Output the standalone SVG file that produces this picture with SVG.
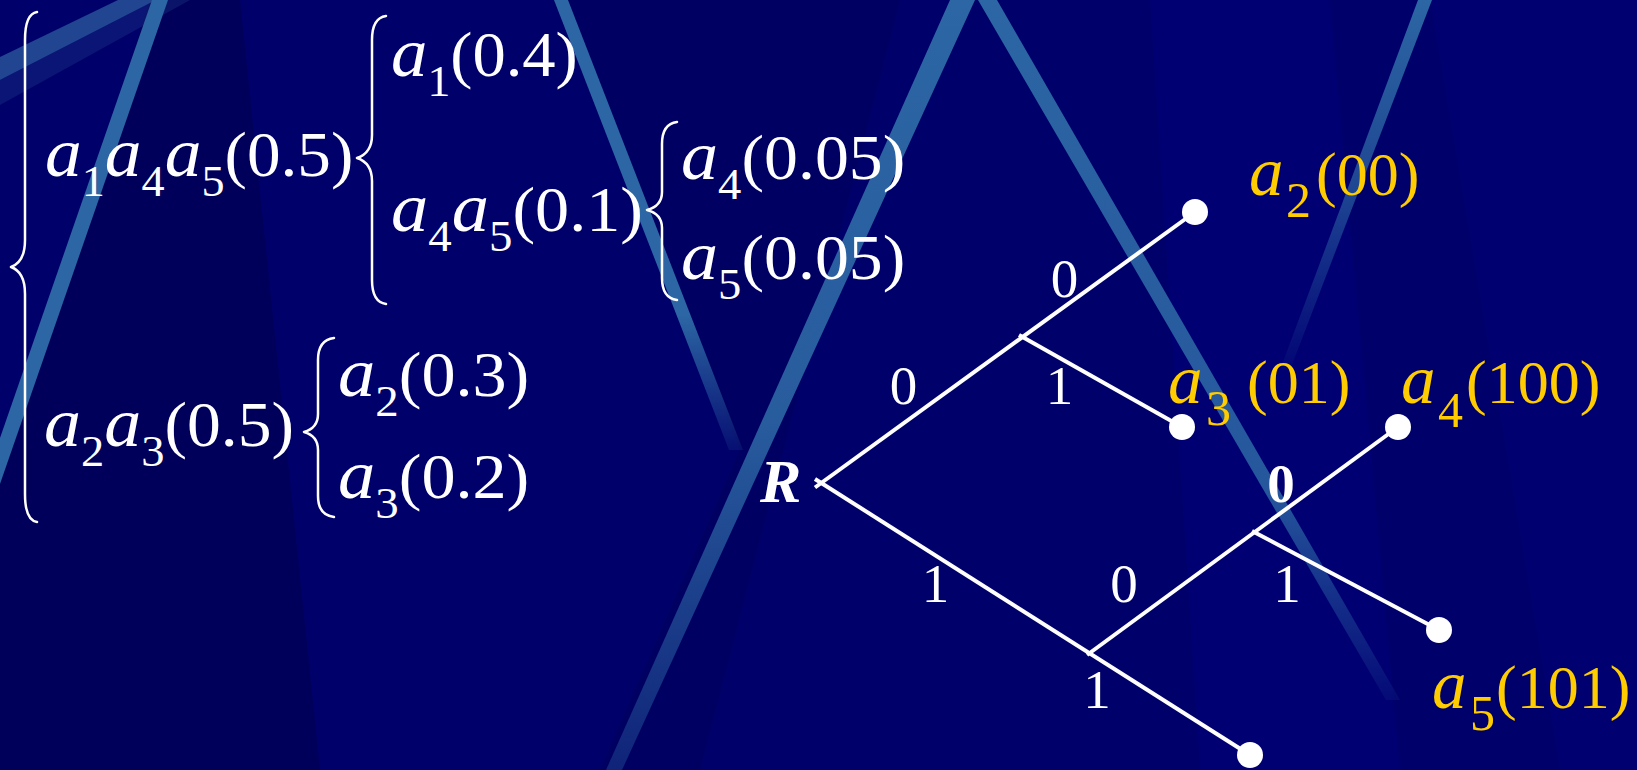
<svg xmlns="http://www.w3.org/2000/svg" width="1637" height="770" viewBox="0 0 1637 770">
<defs>
<style>
.eq{font-family:"Liberation Serif","Times New Roman",serif;font-size:64px;fill:#ffffff}
.i{font-style:italic;font-size:70px}
.s{font-size:44px}
.lbl{font-family:"Liberation Serif","Times New Roman",serif;font-size:62px;fill:#FFCC00}
.li{font-style:italic;font-size:69px}
.ls{font-size:50px}
.ed{font-family:"Liberation Serif","Times New Roman",serif;font-size:55px;fill:#ffffff;text-anchor:middle}
.br{fill:none;stroke:#ffffff;stroke-width:2.5;stroke-linecap:round;stroke-linejoin:round}
.edge{stroke:#ffffff;stroke-width:4;fill:none}
.dot{fill:#ffffff}
.streak{fill:#2C66A4}
</style>
<linearGradient id="fS3" gradientUnits="userSpaceOnUse" x1="0" y1="0" x2="0" y2="450">
<stop offset="0" stop-color="#2C66A4"/><stop offset="0.7" stop-color="#2C66A4"/><stop offset="1" stop-color="#2C66A4" stop-opacity="0.15"/>
</linearGradient>
<linearGradient id="fVL" gradientUnits="userSpaceOnUse" x1="0" y1="0" x2="0" y2="770">
<stop offset="0" stop-color="#2C66A4"/><stop offset="0.55" stop-color="#2C66A4" stop-opacity="0.9"/><stop offset="1" stop-color="#2C66A4" stop-opacity="0.35"/>
</linearGradient>
<linearGradient id="fVR" gradientUnits="userSpaceOnUse" x1="0" y1="0" x2="0" y2="700">
<stop offset="0" stop-color="#2C66A4"/><stop offset="0.7" stop-color="#2C66A4" stop-opacity="0.85"/><stop offset="1" stop-color="#2C66A4" stop-opacity="0.1"/>
</linearGradient>
<linearGradient id="fS6" gradientUnits="userSpaceOnUse" x1="0" y1="0" x2="0" y2="370">
<stop offset="0" stop-color="#2C66A4"/><stop offset="0.5" stop-color="#2C66A4" stop-opacity="0.7"/><stop offset="1" stop-color="#2C66A4" stop-opacity="0.05"/>
</linearGradient>
</defs>

<g id="background">
<rect x="0" y="0" width="1637" height="770" fill="#00006A"/>
<polygon points="150,0 240,0 320,770 0,770 0,480" fill="#00005A"/>
<polygon points="560,0 900,0 700,770 600,770 740,450" fill="#000062"/>
<polygon points="1150,0 1330,0 1400,770 1200,770" fill="#000072"/>
<polygon points="1430,0 1637,0 1637,770 1560,770" fill="#000070"/>
<polygon points="0,57 118,0 156,0 0,80" fill="#2C5C9E" opacity="0.75"/>
<polygon points="0,80 156,0 190,0 0,105" fill="#1E3C8A" opacity="0.35"/>
<polygon class="streak" points="152,0 168,0 0,484 0,438"/>
<polygon points="554,0 568,0 743,450 729,450" fill="url(#fS3)"/>
<polygon points="950,0 975,0 622,770 606,770" fill="url(#fVL)"/>
<polygon points="978,0 997,0 1400,700 1386,700" fill="url(#fVR)"/>
<polygon points="1418,0 1432,0 1290,370 1280,370" fill="url(#fS6)"/>
</g>

<g id="equations">
<path class="br" d="M37,12 Q25,14 25,40 L25,240 Q25,262 11,267 Q25,272 25,294 L25,494 Q25,520 37,522"/>
<path class="br" d="M386,16 Q372,18 372,40 L372,135 Q372,153 357,158 Q372,163 372,181 L372,280 Q372,302 386,304"/>
<path class="br" d="M677,122 Q662,124 662,144 L662,192 Q662,206 647,210 Q662,214 662,228 L662,278 Q662,298 677,300"/>
<path class="br" d="M334,338 Q318,340 318,360 L318,414 Q318,428 304,432 Q318,436 318,450 L318,496 Q318,515 334,517"/>

<g id="eq-a1a4a5">
<text class="eq" transform="translate(45,176) scale(1.05,1)"><tspan class="i">a</tspan><tspan class="s" dy="20">1</tspan><tspan class="i" dy="-20">a</tspan><tspan class="s" dy="20">4</tspan><tspan class="i" dy="-20">a</tspan><tspan class="s" dy="20">5</tspan><tspan dy="-20">(0.5)</tspan></text>
</g>
<g id="eq-a1">
<text class="eq" transform="translate(391,76) scale(1.04,1)"><tspan class="i">a</tspan><tspan class="s" dy="20">1</tspan><tspan dy="-20">(0.4)</tspan></text>
</g>
<g id="eq-a4a5">
<text class="eq" transform="translate(391,231) scale(1.065,1)"><tspan class="i">a</tspan><tspan class="s" dy="20">4</tspan><tspan class="i" dy="-20">a</tspan><tspan class="s" dy="20">5</tspan><tspan dy="-20">(0.1)</tspan></text>
</g>
<g id="eq-a4">
<text class="eq" transform="translate(681,179) scale(1.06,1)"><tspan class="i">a</tspan><tspan class="s" dy="20">4</tspan><tspan dy="-20">(0.05)</tspan></text>
</g>
<g id="eq-a5">
<text class="eq" transform="translate(681,279) scale(1.06,1)"><tspan class="i">a</tspan><tspan class="s" dy="20">5</tspan><tspan dy="-20">(0.05)</tspan></text>
</g>
<g id="eq-a2a3">
<text class="eq" transform="translate(44,446) scale(1.057,1)"><tspan class="i">a</tspan><tspan class="s" dy="20">2</tspan><tspan class="i" dy="-20">a</tspan><tspan class="s" dy="20">3</tspan><tspan dy="-20">(0.5)</tspan></text>
</g>
<g id="eq-a2">
<text class="eq" transform="translate(338,396) scale(1.065,1)"><tspan class="i">a</tspan><tspan class="s" dy="20">2</tspan><tspan dy="-20">(0.3)</tspan></text>
</g>
<g id="eq-a3">
<text class="eq" transform="translate(338,498) scale(1.065,1)"><tspan class="i">a</tspan><tspan class="s" dy="20">3</tspan><tspan dy="-20">(0.2)</tspan></text>
</g>
</g>

<g id="connectors">
<line class="edge" x1="815" y1="487.5" x2="1195" y2="212"/>
<line class="edge" x1="1019" y1="335" x2="1182" y2="427"/>
<line class="edge" x1="815" y1="479" x2="1250" y2="755"/>
<line class="edge" x1="1087" y1="655" x2="1398" y2="427"/>
<line class="edge" x1="1252" y1="531" x2="1439" y2="630"/>
<text class="ed" x="1064.5" y="297">0</text>
<text class="ed" x="903.5" y="404">0</text>
<text class="ed" x="1059.5" y="404">1</text>
<text class="ed" x="935.5" y="602">1</text>
<text class="ed" x="1124" y="602">0</text>
<text class="ed" x="1287" y="602">1</text>
<text class="ed" x="1097" y="708">1</text>
<text class="ed" x="1281" y="502" font-weight="bold">0</text>
</g>

<g id="node-R">
<text x="760" y="502" font-family="'Liberation Serif','Times New Roman',serif" font-size="62" font-weight="bold" font-style="italic" fill="#ffffff">R</text>
</g>
<g id="node-a2">
<circle class="dot" cx="1195" cy="212" r="13"/>
<text class="lbl"><tspan class="li" x="1249" y="195">a</tspan><tspan class="ls" x="1286" y="217">2</tspan><tspan x="1316" y="195">(00)</tspan></text>
</g>
<g id="node-a3">
<circle class="dot" cx="1182" cy="427" r="13"/>
<text class="lbl"><tspan class="li" x="1168" y="403">a</tspan><tspan class="ls" x="1206" y="425">3</tspan><tspan x="1247" y="403">(01)</tspan></text>
</g>
<g id="node-a4">
<circle class="dot" cx="1398" cy="427" r="13"/>
<text class="lbl"><tspan class="li" x="1401" y="403">a</tspan><tspan class="ls" x="1438" y="427">4</tspan><tspan x="1466" y="403">(100)</tspan></text>
</g>
<g id="node-a5">
<circle class="dot" cx="1439" cy="630" r="13"/>
<text class="lbl"><tspan class="li" x="1432" y="708">a</tspan><tspan class="ls" x="1470" y="730">5</tspan><tspan x="1496" y="708">(101)</tspan></text>
</g>
<g id="node-leaf">
<circle class="dot" cx="1250" cy="755" r="13"/>
</g>
</svg>
